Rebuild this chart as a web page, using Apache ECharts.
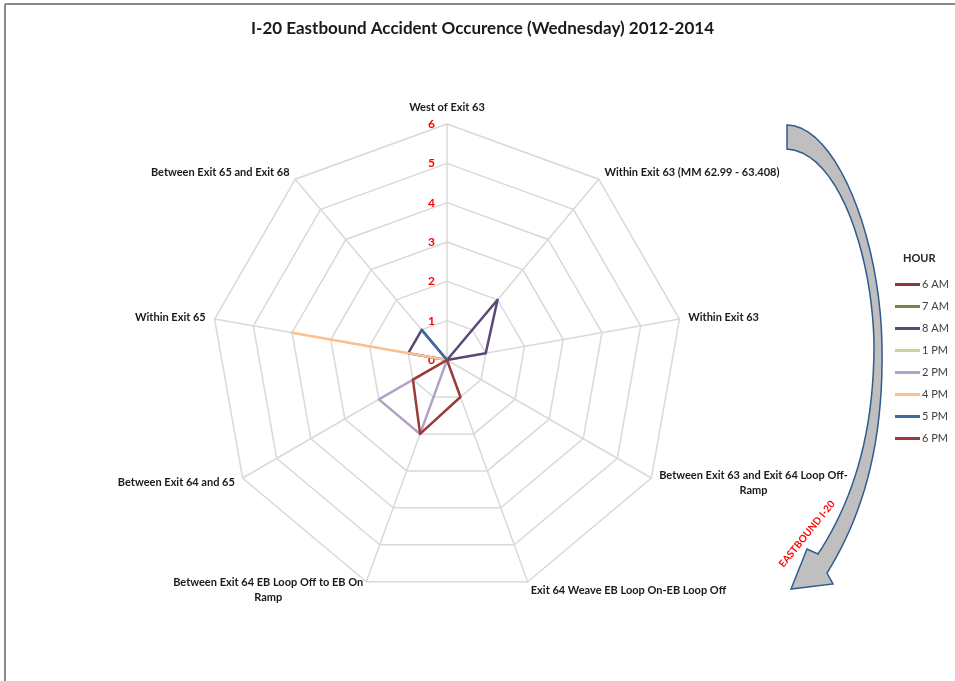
<!DOCTYPE html>
<html>
<head>
<meta charset="utf-8">
<script src="https://cdn.jsdelivr.net/npm/echarts@6/dist/echarts.min.js"></script>
<style>
  html, body { margin: 0; padding: 0; background: #fff; }
  #chart { width: 955px; height: 681px; }
</style>
</head>
<body>
<div id="chart"></div>
<script>
// road segments, listed clockwise from the top
var segments = [
  'West of Exit 63',
  'Within Exit 63 (MM 62.99 - 63.408)',
  'Within Exit 63',
  'Between Exit 63 and Exit 64 Loop Off-\nRamp',
  'Exit 64 Weave EB Loop On-EB Loop Off',
  'Between Exit 64 EB Loop Off to EB On\nRamp',
  'Between Exit 64 and 65',
  'Within Exit 65',
  'Between Exit 65 and Exit 68'
]
var hours = ['6 AM', '7 AM', '8 AM', '1 PM', '2 PM', '4 PM', '5 PM', '6 PM']
var hourColors = ['#8c3836', '#71893f', '#5c4776', '#c3d69b', '#b3a2c7', '#fac090', '#3e6a9e', '#9b3a38']

// accident counts per hour, same order as segments
var am6 = [0, 0, 0, 0, 0, 0, 0, 0, 0]
var am7 = [0, 0, 0, 0, 0, 0, 0, 0, 0]
var am8 = [0, 2, 1, 0, 0, 0, 0, 1, 1]
var pm1 = [0, 0, 0, 0, 0, 0, 0, 0, 0]
var pm2 = [0, 0, 0, 0, 0, 2, 2, 0, 0]
var pm4 = [0, 0, 0, 0, 0, 0, 0, 4, 0]
var pm5 = [0, 0, 0, 0, 0, 0, 0, 0, 1]
var pm6 = [0, 0, 0, 0, 1, 2, 1, 0, 0]
var counts = [am6, am7, am8, pm1, pm2, pm4, pm5, pm6]

var axisMax = 6

// echarts lays indicators out counter-clockwise, so flip the order after the first one
var order = [0].concat(segments.map(function (s, i) { return i }).slice(1).reverse())

// sample a cubic bezier into points (for the arrow outline)
function bez(p0, p1, p2, p3) {
  var pts = []
  for (var t = 0; t <= 1.0001; t += 0.05) {
    var u = 1 - t
    pts.push([
      u * u * u * p0[0] + 3 * u * u * t * p1[0] + 3 * u * t * t * p2[0] + t * t * t * p3[0],
      u * u * u * p0[1] + 3 * u * u * t * p1[1] + 3 * u * t * t * p2[1] + t * t * t * p3[1]
    ])
  }
  return pts
}
var arrowPts = [].concat(
  bez([787, 125], [835, 125], [880, 235], [882, 345]),
  bez([882, 345], [884, 450], [860, 520], [827, 573]),
  [[833, 584], [791, 589], [807, 549], [818, 554]],
  bez([818, 554], [850, 505], [874, 440], [874, 345]),
  bez([874, 345], [873, 260], [840, 152], [787, 149])
)

var chart = echarts.init(document.getElementById('chart'))

var indicators = order.map(function (i) {
  var ind = { name: segments[i], max: axisMax, min: 0 }
  if (i === 0) ind.axisLabel = { show: true }
  return ind
})

var option = {
  animation: false,
  textStyle: { fontFamily: 'Lato' },
  title: [
    {
      text: 'I-20 Eastbound Accident Occurence (Wednesday) 2012-2014',
      left: 246,
      top: 15,
      textStyle: { fontFamily: 'Lato', fontSize: 17, fontWeight: 'bold', color: '#1a1a1a' }
    },
    {
      text: 'HOUR',
      left: 898,
      top: 248,
      textStyle: { fontFamily: 'Lato', fontSize: 11, fontWeight: 'bold', color: '#262626' }
    }
  ],
  legend: {
    orient: 'vertical',
    left: 895,
    top: 279,
    padding: 0,
    icon: 'rect',
    itemWidth: 25,
    itemHeight: 3,
    itemGap: 11,
    data: hours,
    textStyle: { fontFamily: 'Lato', fontSize: 11, color: '#404040', padding: [0, 0, 0, -3] }
  },
  radar: {
    center: [447, 360],
    radius: 236,
    startAngle: 90,
    shape: 'polygon',
    splitNumber: 6,
    nameGap: 9,
    indicator: indicators,
    axisName: {
      color: '#1a1a1a',
      fontFamily: 'Lato',
      fontSize: 11,
      fontWeight: 'bold',
      formatter: function (name) {
        return name.split('\n').map(function (l) { return '{c|' + l + '}' }).join('\n')
      },
      rich: {
        c: { align: 'center', fontFamily: 'Lato', fontSize: 11, fontWeight: 'bold', color: '#1a1a1a', lineHeight: 15 }
      }
    },
    axisLabel: {
      show: false,
      color: '#ff0000',
      fontFamily: 'Lato',
      fontSize: 12,
      fontWeight: 'bold',
      margin: 12
    },
    axisLine: { lineStyle: { color: '#d9d9d9', width: 1.5 } },
    splitLine: { lineStyle: { color: '#d9d9d9', width: 1.5 } },
    splitArea: { show: false }
  },
  series: [
    {
      type: 'radar',
      symbol: 'none',
      data: hours.map(function (h, k) {
        return {
          name: h,
          value: order.map(function (i) { return counts[k][i] }),
          itemStyle: { color: hourColors[k] },
          lineStyle: { color: hourColors[k], width: 2.5 }
        }
      })
    }
  ],
  graphic: [
    { type: 'line', shape: { x1: 5, y1: 4, x2: 955, y2: 4 }, style: { stroke: '#8a8a8a', lineWidth: 2 } },
    { type: 'line', shape: { x1: 5, y1: 4, x2: 5, y2: 681 }, style: { stroke: '#8a8a8a', lineWidth: 2 } },
    {
      type: 'polygon',
      shape: { points: arrowPts },
      style: { fill: '#bfbfbf', stroke: '#2f5c8f', lineWidth: 1.5 }
    },
    {
      type: 'text',
      x: 807,
      y: 534,
      rotation: 0.89,
      style: {
        text: 'EASTBOUND I-20',
        fill: '#ff0000',
        font: 'bold 10px Lato',
        align: 'center',
        verticalAlign: 'middle'
      }
    }
  ]
}

chart.setOption(option)
</script>
</body>
</html>
